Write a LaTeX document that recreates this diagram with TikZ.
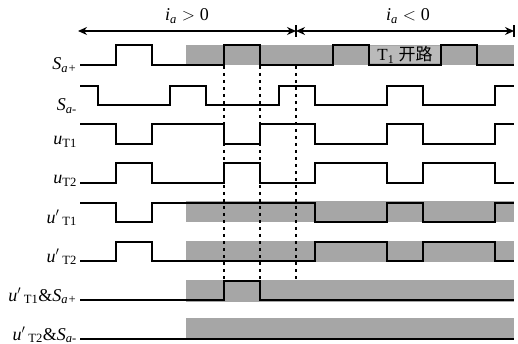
\documentclass[tikz,border=0pt]{standalone}
\usepackage{amsmath}
\usepackage{fontspec}
\setmainfont{Liberation Serif}
\newfontfamily\cjk{Noto Sans CJK SC}
\usetikzlibrary{arrows.meta}
\definecolor{shade}{RGB}{166,166,166}
\definecolor{lightshade}{RGB}{186,186,186}
\tikzstyle{band} = [fill=shade, draw=none]
\tikzstyle{wave} = [line width=1.5pt, line join=miter]
\tikzstyle{dotline} = [line width=1.3pt, dash pattern=on 3pt off 4pt]
\tikzstyle{arrow} = [line width=1.3pt, <->, >={Stealth[length=9pt,width=8pt]}]
\tikzstyle{siglabel} = [anchor=base east, inner sep=0pt, font=\fontsize{18}{21}\selectfont]
\tikzstyle{zone} = [anchor=base, inner sep=0pt, font=\fontsize{18}{21}\selectfont]

\begin{document}
\begin{tikzpicture}[x=1pt, y=-1pt]
\useasboundingbox (0,0) rectangle (518,344);

% shaded intervals (T1 open)
\fill [band] (186,45) rectangle (514,65);
\fill [band] (186,201) rectangle (514,222);
\fill [band] (186,241) rectangle (514,262);
\fill [band] (186,280) rectangle (514,302);
\fill [band] (186,318) rectangle (514,338);

% current direction
\coordinate (lft) at (78,31);
\coordinate (mid) at (296,31);
\coordinate (rgt) at (514,31);
\draw [arrow] (lft) -- (mid);
\draw [arrow] (mid) -- (rgt);
\draw [line width=1.3pt] ([yshift=-6pt]mid) -- ([yshift=6pt]mid);
\draw [line width=1.3pt] ([yshift=-6pt]rgt) -- ([yshift=6pt]rgt);
\node (pos) [zone] at (187,21) {$\textit{i}_{\text{\itshape a}}>\text{0}$};
\node (neg) [zone] at (408,21) {$\textit{i}_{\text{\itshape a}}<\text{0}$};

% time markers
\foreach \x in {224,260,296}
  \draw [dotline] (\x,66) -- (\x,280);

% signals
\node (opn) [fill=lightshade, minimum width=70pt, minimum height=17pt, inner sep=0pt,
  font=\fontsize{17}{20}\selectfont] at (405,55) {T$_{\text{1}}$ {\cjk 开路}};
\draw [wave] (80,65) -| (116,45) -| (152,65) -| (224,45) -| (260,65) -| (333,45) -| (369,65) -| (441,45) -| (477,65) -- (514,65);
\draw [wave] (80,86) -| (98,105) -| (170,86) -| (206,105) -| (279,86) -| (315,105) -| (387,86) -| (423,105) -| (495,86) -- (514,86);
\draw [wave] (80,124) -| (116,144) -| (152,124) -| (224,144) -| (260,124) -| (315,144) -| (387,124) -| (423,144) -| (495,124) -- (514,124);
\draw [wave] (80,183) -| (116,163) -| (152,183) -| (224,163) -| (260,183) -| (315,163) -| (387,183) -| (423,163) -| (495,183) -- (514,183);
\draw [wave] (80,203) -| (116,222) -| (152,203) -| (315,222) -| (387,203) -| (423,222) -| (495,203) -- (514,203);
\draw [wave] (80,261) -| (116,242) -| (152,261) -| (315,242) -| (387,261) -| (423,242) -| (495,261) -- (514,261);
\draw [wave] (80,300) -| (224,281) -| (260,300) -- (514,300);
\draw [wave] (80,339) -- (514,339);

% labels
\node (sap) [siglabel] at (77,70) {$\textit{S}_{\text{\itshape a+}}$};
\node (sam) [siglabel] at (77,111) {$\textit{S}_{\text{\itshape a-}}$};
\node (ut1) [siglabel] at (77,145) {$\textit{u}_{\text{T1}}$};
\node (ut2) [siglabel] at (77,184) {$\textit{u}_{\text{T2}}$};
\node (vt1) [siglabel] at (77,223) {$\textit{u}'\,_{\text{T1}}$};
\node (vt2) [siglabel] at (77,262) {$\textit{u}'\,_{\text{T2}}$};
\node (vsp) [siglabel] at (77,301) {$\textit{u}'\,_{\text{T1}}\text{\&}\textit{S}_{\text{\itshape a+}}$};
\node (vsm) [siglabel] at (77,340) {$\textit{u}'\,_{\text{T2}}\text{\&}\textit{S}_{\text{\itshape a-}}$};

\end{tikzpicture}
\end{document}
